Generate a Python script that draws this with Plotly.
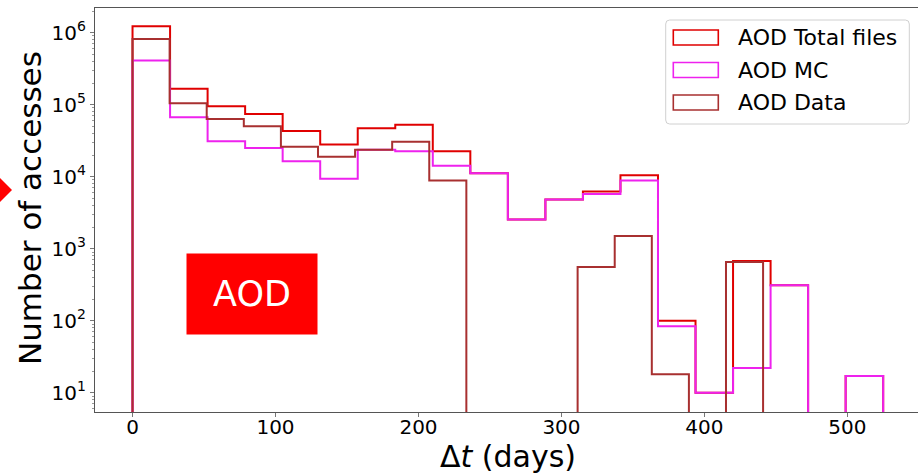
import numpy as np
import plotly.graph_objects as go

# Histogram binning: Total and MC share 20 bins over [0, 525] days,
# Data uses 17 bins over [0, 441] days.
TOTAL_MC_RANGE = (0.0, 525.0)
TOTAL_MC_NBINS = 20
DATA_RANGE = (0.0, 441.0)
DATA_NBINS = 17

# Counts per bin (number of accesses)
total_counts = [1.23e6, 1.67e5, 9.5e4, 7.4e4, 4.3e4, 2.8e4, 4.7e4, 5.25e4, 2.25e4, 1.12e4,
                2.55e3, 4.83e3, 6.24e3, 1.05e4, 100, 10, 673, 310, 0, 17]
mc_counts = [4.1e5, 6.7e4, 3.1e4, 2.5e4, 1.64e4, 9.4e3, 2.36e4, 2.26e4, 1.42e4, 1.12e4,
             2.55e3, 4.83e3, 5.73e3, 8.85e3, 84, 10, 22, 310, 0, 17]
data_counts = [8.2e5, 1.05e5, 6.35e4, 5.0e4, 2.6e4, 1.9e4, 2.36e4, 3.05e4, 8.85e3, 0,
               0, 0, 556, 1.5e3, 18, 0, 652]

series_names = ["AOD Total files", "AOD MC", "AOD Data"]
series_colors = ["#e00000", "#ee22ee", "#a83030"]

x_tick_values = [0, 100, 200, 300, 400, 500]
y_tick_exponents = [1, 2, 3, 4, 5, 6]

# Figure geometry (pixels)
WIDTH, HEIGHT = 918, 474
L, R, T, B = 95, 918, 8, 412
PW, PH = R - L, B - T


def px(x):
    return (x - L) / PW


def py(y):
    return (B - y) / PH


def step_outline(edges, counts, floor=1.0):
    """Outline of a step histogram; empty bins drop to the (off-scale) floor."""
    xs, ys = [edges[0]], [floor]
    for i, c in enumerate(counts):
        v = c if c > 0 else floor
        xs += [edges[i], edges[i + 1]]
        ys += [v, v]
    xs.append(edges[-1])
    ys.append(floor)
    return xs, ys


edges_tm = np.linspace(*TOTAL_MC_RANGE, TOTAL_MC_NBINS + 1)
edges_data = np.linspace(*DATA_RANGE, DATA_NBINS + 1)

fig = go.Figure()
for name, color, edges, counts in zip(series_names, series_colors,
                                      [edges_tm, edges_tm, edges_data],
                                      [total_counts, mc_counts, data_counts]):
    xs, ys = step_outline(edges, counts)
    fig.add_trace(go.Scatter(x=xs, y=ys, mode="lines", name=name,
                             line=dict(color=color, width=2), showlegend=False,
                             hoverinfo="skip"))

# Hand-drawn legend with outlined patches
shapes = []
annotations = []
lx0, lx1, ly0, ly1, rad = 665.7, 909.3, 20, 124, 4
legend_path = (
    f"M {px(lx0 + rad)},{py(ly0)} L {px(lx1 - rad)},{py(ly0)} "
    f"Q {px(lx1)},{py(ly0)} {px(lx1)},{py(ly0 + rad)} "
    f"L {px(lx1)},{py(ly1 - rad)} Q {px(lx1)},{py(ly1)} {px(lx1 - rad)},{py(ly1)} "
    f"L {px(lx0 + rad)},{py(ly1)} Q {px(lx0)},{py(ly1)} {px(lx0)},{py(ly1 - rad)} "
    f"L {px(lx0)},{py(ly0 + rad)} Q {px(lx0)},{py(ly0)} {px(lx0 + rad)},{py(ly0)} Z"
)
shapes.append(dict(type="path", xref="paper", yref="paper", path=legend_path,
                   line=dict(color="#d0d0d0", width=1), fillcolor="rgba(255,255,255,0.85)",
                   layer="above"))
row_centers = [37.5, 70.0, 102.5]
for name, color, yc in zip(series_names, series_colors, row_centers):
    shapes.append(dict(type="rect", xref="paper", yref="paper",
                       x0=px(673.3), x1=px(718.3), y0=py(yc + 7.5), y1=py(yc - 7.5),
                       line=dict(color=color, width=1.6), fillcolor="rgba(0,0,0,0)",
                       layer="above"))
    annotations.append(dict(xref="paper", yref="paper", x=px(735.5), y=py(yc),
                            xanchor="left", yanchor="middle", showarrow=False,
                            text=name, font=dict(size=22, color="#000000")))

# Red pointer on the left edge
shapes.append(dict(type="path", xref="paper", yref="paper",
                   path=f"M {px(-3)},{py(175)} L {px(12)},{py(190)} L {px(-3)},{py(205)} Z",
                   fillcolor="#ff0000", line=dict(width=0), layer="above"))

# "AOD" tag
annotations.append(dict(xref="paper", yref="paper", x=px(251.8), y=py(294),
                        xanchor="center", yanchor="middle", showarrow=False,
                        text="AOD", width=130, height=80, borderpad=0,
                        bgcolor="#ff0000", font=dict(size=35, color="#ffffff")))

# Axis titles
annotations.append(dict(xref="paper", yref="paper", x=px(30), y=py(208),
                        xanchor="center", yanchor="middle", showarrow=False,
                        textangle=-90, text="Number of accesses",
                        font=dict(size=31, color="#000000")))
annotations.append(dict(xref="paper", yref="paper", x=px(508), y=py(456),
                        xanchor="center", yanchor="middle", showarrow=False,
                        text="Δ<i>t</i> (days)", font=dict(size=30, color="#000000")))

minor_vals = [m * 10 ** e for e in range(0, 7) for m in range(2, 10)]

fig.update_layout(
    width=WIDTH, height=HEIGHT,
    margin=dict(l=L, r=WIDTH - R, t=T, b=HEIGHT - B, autoexpand=False),
    paper_bgcolor="white", plot_bgcolor="white",
    font=dict(family="DejaVu Sans", color="#000000"),
    showlegend=False,
    shapes=shapes, annotations=annotations,
    xaxis=dict(range=[-26.25, 549.35], tickmode="array", tickvals=x_tick_values,
               ticks="outside", ticklen=4, tickwidth=1, tickcolor="#777777",
               ticklabelstandoff=-7,
               showline=True, linecolor="#555555", linewidth=1.2, mirror=True,
               showgrid=False, zeroline=False, tickfont=dict(size=20, color="#000000")),
    yaxis=dict(type="log", range=[0.732, 6.343], tickmode="array",
               tickvals=[10 ** e for e in y_tick_exponents],
               ticktext=[f"10<sup>{e}</sup>" for e in y_tick_exponents],
               ticks="outside", ticklen=4, tickwidth=1, tickcolor="#777777",
               minor=dict(tickmode="array", tickvals=minor_vals, ticks="outside",
                          ticklen=2, tickcolor="#999999", showgrid=False),
               showline=True, linecolor="#555555", linewidth=1.2,
               showgrid=False, zeroline=False, tickfont=dict(size=20, color="#000000")),
)

fig.write_html("out.html")
